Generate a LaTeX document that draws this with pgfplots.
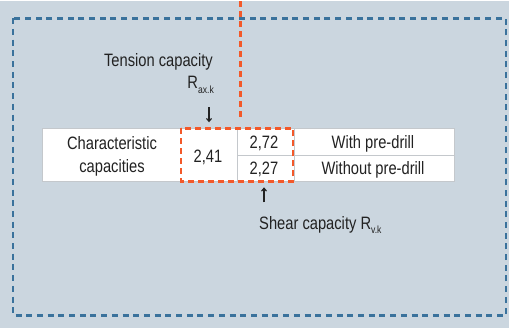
\documentclass[border=0pt]{standalone}
\usepackage{fontspec}
\setmainfont[FakeStretch=0.82]{Liberation Sans}
\usepackage{pgfplots}
\usepackage{pgfplotstable}
\pgfplotsset{compat=1.18}
\usetikzlibrary{arrows.meta}
\definecolor{bg}{HTML}{CBD6DF}
\definecolor{blueD}{HTML}{3A729C}
\definecolor{orangeD}{HTML}{F3592A}
\definecolor{txt}{HTML}{222222}
\definecolor{gridc}{HTML}{C4C8CC}
\pgfplotstableread{
x y label
208 161.5 2,41
264 147.5 2,72
264 173 2,27
}\values
\newcommand{\sub}[1]{\raisebox{-0.45ex}{\fontsize{10.5}{10.5}\selectfont #1}}
\begin{document}
\begin{tikzpicture}
\begin{axis}[width=509bp,height=327bp,scale only axis,
  xmin=0,xmax=509,ymin=0,ymax=327,y dir=reverse,hide axis,clip=false]
\fill[bg] (0,0) rectangle (509,327);
\draw[blueD, line width=2.6bp, dash pattern=on 6bp off 4.7bp] (13,17) rectangle (506,314);
\draw[orangeD, line width=2.6bp, dash pattern=on 6bp off 4bp] (240.5,0) -- (240.5,119);
% table
\fill[white] (42,127) rectangle (454,180);
\draw[gridc, line width=0.9bp] (42,127) rectangle (454,180);
\draw[gridc, line width=0.9bp] (237,127) -- (237,180);
\draw[gridc, line width=0.9bp] (294,127) -- (294,180);
\draw[gridc, line width=0.9bp] (237,154) -- (454,154);
\draw[orangeD, line width=2.6bp, dash pattern=on 6bp off 4bp] (181,127) rectangle (293,180);
% values
\addplot[draw=none, mark=none, nodes near coords, point meta=explicit symbolic,
  nodes near coords style={anchor=base, font=\fontsize{18}{21}\selectfont, text=txt, inner sep=0pt}]
  table[x=x, y=y, meta=label] {\values};
% labels
\node[anchor=base, text=txt, font=\fontsize{18}{21}\selectfont, inner sep=0pt] at (373,147.5) {With pre-drill};
\node[anchor=base, text=txt, font=\fontsize{18}{21}\selectfont, inner sep=0pt] at (373,173) {Without pre-drill};
\node[anchor=base, text=txt, font=\fontsize{18}{21}\selectfont, inner sep=0pt] at (112,148) {Characteristic};
\node[anchor=base, text=txt, font=\fontsize{18}{21}\selectfont, inner sep=0pt] at (112,171.5) {capacities};
\node[anchor=base east, text=txt, font=\fontsize{18}{21}\selectfont, inner sep=0pt] at (213,65) {Tension capacity};
\node[anchor=base east, text=txt, font=\fontsize{18}{21}\selectfont, inner sep=0pt] at (214,87.5) {R\sub{ax.k}};
\node[anchor=base west, text=txt, font=\fontsize{18}{21}\selectfont, inner sep=0pt] at (259,228) {Shear capacity R\sub{v.k}};
% arrows
\draw[txt, line width=1.1bp, -{Straight Barb[length=3bp,width=5bp]}] (209,106) -- (209,121);
\draw[txt, line width=1.1bp, -{Straight Barb[length=3bp,width=5bp]}] (264,201) -- (264,186);
\end{axis}
\end{tikzpicture}
\end{document}
